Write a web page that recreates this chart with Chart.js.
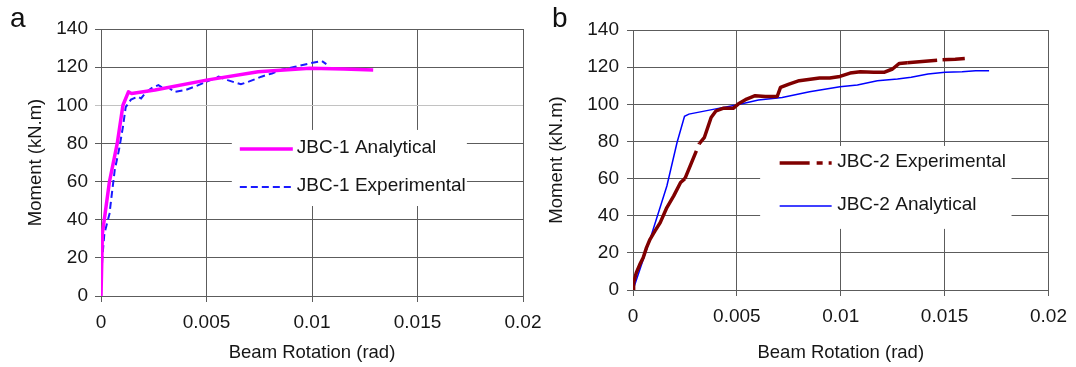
<!DOCTYPE html>
<html>
<head>
<meta charset="utf-8">
<script src="https://cdn.jsdelivr.net/npm/chart.js@4.4.1/dist/chart.umd.min.js"></script>
<style>
    html, body { margin: 0; padding: 0; background: #fff; }
    #wrap { position: relative; width: 1076px; height: 367px; overflow: hidden; font-family: "Liberation Sans", Arial, sans-serif; }
    .panel { position: absolute; top: 0; height: 367px; }
    #panelA { left: 0; width: 560px; }
    #panelB { left: 540px; width: 536px; }
    .tag { position: absolute; font-size: 28px; line-height: 28px; color: #111; }
</style>
</head>
<body>
<div id="wrap">
    <div class="panel" id="panelA"><canvas id="chartA"></canvas></div>
    <div class="panel" id="panelB"><canvas id="chartB"></canvas></div>
    <div class="tag" style="left:10px; top:4px;">a</div>
    <div class="tag" style="left:552px; top:4px;">b</div>
</div>
<script>
// axis ticks
const rotationTicks = [0, 0.005, 0.01, 0.015, 0.02];
const momentTicks = [0, 20, 40, 60, 80, 100, 120, 140];

// (a) JBC-1
const jbc1AnaRot = [0, 0.000065, 0.0004, 0.00077, 0.00104, 0.0013, 0.00145, 0.00256, 0.005, 0.00745, 0.0099, 0.0115, 0.0129];
const jbc1AnaMom = [0, 32.7, 59.9, 80, 100, 107, 106.2, 108, 113.2, 117.6, 119.4, 119, 118.5];

const jbc1ExpRot = [0, 0.00002, 0.000065, 0.00016, 0.0004, 0.00065, 0.00085, 0.00104, 0.00117, 0.00142, 0.00174, 0.0019, 0.00215, 0.0024, 0.00272, 0.00289, 0.0032, 0.00346, 0.004, 0.0045, 0.005, 0.00557, 0.006, 0.00663, 0.007, 0.0076, 0.0081, 0.0086, 0.0092, 0.0099, 0.01047, 0.01068];
const jbc1ExpMom = [0, 10, 20.5, 32.7, 43, 66, 76.5, 88.7, 99, 103, 104.5, 103.6, 107, 109, 110.6, 109.4, 109.4, 107, 108, 110, 112.4, 115, 113.2, 111, 112.4, 115, 116.7, 118.8, 120.2, 122, 123.2, 121.6];

// (b) JBC-2
const jbc2ExpRot = [0, 0.00003, 0.00016, 0.00033, 0.00049, 0.00065, 0.00082, 0.00106, 0.00131, 0.00163, 0.00196, 0.00229, 0.0025, 0.0032, 0.00343, 0.00376, 0.004, 0.00433, 0.00482, 0.00506, 0.00547, 0.00588, 0.00637, 0.00694, 0.0071, 0.00751, 0.008, 0.00898, 0.00947, 0.00996, 0.01045, 0.01094, 0.01159, 0.01208, 0.01249, 0.01282, 0.0132, 0.0149, 0.01551, 0.01597];
const jbc2ExpMom = [0, 4, 9.3, 13.8, 17.4, 22.8, 27.3, 31.8, 36.3, 44.4, 50.7, 57.9, 60, 79, 82, 92.9, 96.5, 97.8, 97.8, 100.1, 102.8, 104.6, 104.2, 104.2, 109.1, 110.9, 112.7, 114.1, 114.1, 115, 116.8, 117.5, 117.2, 117.2, 119, 122, 122.4, 124, 124.3, 124.7];

const jbc2AnaRot = [0, 0.00082, 0.00163, 0.00212, 0.00248, 0.00269, 0.00392, 0.00498, 0.00604, 0.00718, 0.0085, 0.00996, 0.0108, 0.01176, 0.01273, 0.01339, 0.0142, 0.01502, 0.01584, 0.01649, 0.01714];
const jbc2AnaMom = [0, 27.3, 56, 79.4, 93.5, 94.7, 97.4, 99.6, 102.3, 103.7, 106.8, 109.5, 110.4, 112.7, 113.6, 114.5, 116.3, 117.2, 117.5, 118, 118];

const TEXT = '#161616';
const GRID = '#5c5c5c';
const EXP2_DASH = [30, 7, 6, 6, 3, 6];

Chart.defaults.font.family = '"Liberation Sans", Arial, sans-serif';
Chart.defaults.font.size = 19;
Chart.defaults.color = TEXT;

function toPoints(xs, ys) {
    return xs.map((x, i) => ({ x: x, y: ys[i] }));
}

// legend drawn inside the plot area on a white box, like the spreadsheet original
const insideLegend = {
    id: 'insideLegend',
    afterDraw(chart, args, opts) {
        const { ctx, chartArea: a } = chart;
        const x0 = a.left + opts.box[0] * a.width;
        const x1 = a.left + opts.box[1] * a.width;
        const y0 = a.top + opts.box[2] * a.height;
        const y1 = a.top + opts.box[3] * a.height;
        ctx.save();
        ctx.fillStyle = '#fff';
        ctx.fillRect(x0, y0, x1 - x0, y1 - y0);
        chart.data.datasets.forEach((ds, i) => {
            const y = a.top + opts.rows[i] * a.height;
            const sx = x0 + opts.inset;
            ctx.beginPath();
            ctx.strokeStyle = ds.borderColor;
            ctx.lineWidth = ds.borderWidth;
            ctx.lineCap = 'butt';
            ctx.setLineDash(ds.legendDash || ds.borderDash || []);
            ctx.moveTo(sx, y);
            ctx.lineTo(sx + opts.sample, y);
            ctx.stroke();
            ctx.setLineDash([]);
            ctx.fillStyle = TEXT;
            ctx.font = '19px "Liberation Sans", Arial, sans-serif';
            ctx.textBaseline = 'middle';
            ctx.textAlign = 'left';
            ctx.fillText(ds.label, sx + opts.sample + opts.gap, y - 1);
        });
        ctx.restore();
    }
};

function buildScales(s) {
    return {
        x: {
            type: 'linear',
            min: 0,
            max: 0.02,
            afterBuildTicks: scale => { scale.ticks = rotationTicks.map(v => ({ value: v })); },
            afterFit: scale => { scale.height = s.xHeight; },
            grid: { color: GRID, lineWidth: 1, tickLength: 6 },
            border: { color: GRID },
            ticks: { color: TEXT, padding: 9, maxRotation: 0, callback: v => String(v) },
            title: { display: true, text: 'Beam Rotation (rad)', color: TEXT, font: { size: 18.5 }, padding: { top: 0, bottom: 3 } }
        },
        y: {
            type: 'linear',
            min: 0,
            max: 140,
            afterBuildTicks: scale => { scale.ticks = momentTicks.map(v => ({ value: v })); },
            afterFit: scale => { scale.width = s.yWidth; },
            grid: { color: s.yGridColor || GRID, lineWidth: 1, tickLength: 6 },
            border: { color: GRID },
            ticks: { color: TEXT, padding: s.yTickPad },
            title: { display: true, text: 'Moment (kN.m)', color: TEXT, font: { size: 18.5 }, padding: { top: s.yTitlePad, bottom: 0 } }
        }
    };
}

// Panel a
new Chart(document.getElementById('chartA'), {
    type: 'scatter',
    data: {
        datasets: [{
            label: 'JBC-1 Analytical',
            data: toPoints(jbc1AnaRot, jbc1AnaMom),
            showLine: true,
            borderColor: '#ff00ff',
            borderWidth: 3.5,
            borderJoinStyle: 'round',
            pointRadius: 0,
            tension: 0
        }, {
            label: 'JBC-1 Experimental',
            data: toPoints(jbc1ExpRot, jbc1ExpMom),
            showLine: true,
            borderColor: '#1a1aff',
            borderWidth: 2,
            borderDash: [7, 4],
            pointRadius: 0,
            tension: 0
        }]
    },
    options: {
        responsive: true,
        maintainAspectRatio: false,
        animation: false,
        layout: { padding: { left: 0, right: 37, top: 29, bottom: 0 } },
        scales: buildScales({
            xHeight: 71,
            yWidth: 101,
            yTickPad: 7,
            yTitlePad: 25,
            yGridColor: ctx => (ctx.tick && ctx.tick.value === 100) ? '#c2c2c2' : GRID
        }),
        plugins: {
            legend: { display: false },
            tooltip: { enabled: false },
            insideLegend: { box: [0.31, 0.867, 0.378, 0.663], rows: [0.449, 0.592], inset: 8, sample: 53, gap: 4 }
        }
    },
    plugins: [insideLegend]
});

// Panel b
new Chart(document.getElementById('chartB'), {
    type: 'scatter',
    data: {
        datasets: [{
            label: 'JBC-2 Experimental',
            data: toPoints(jbc2ExpRot, jbc2ExpMom),
            showLine: true,
            borderColor: '#800000',
            borderWidth: 3.5,
            borderJoinStyle: 'round',
            legendDash: EXP2_DASH,
            // long jumps between readings show the dash pattern, short ones look solid
            segment: {
                borderDash: ctx => Math.hypot(ctx.p1.x - ctx.p0.x, ctx.p1.y - ctx.p0.y) > 25 ? EXP2_DASH : undefined
            },
            pointRadius: 0,
            tension: 0
        }, {
            label: 'JBC-2 Analytical',
            data: toPoints(jbc2AnaRot, jbc2AnaMom),
            showLine: true,
            borderColor: '#0000ff',
            borderWidth: 1.5,
            pointRadius: 0,
            tension: 0
        }]
    },
    options: {
        responsive: true,
        maintainAspectRatio: false,
        animation: false,
        layout: { padding: { left: 0, right: 23, top: 30, bottom: 0 } },
        scales: buildScales({
            xHeight: 77,
            yWidth: 93,
            yTickPad: 8,
            yTitlePad: 6
        }),
        plugins: {
            legend: { display: false },
            tooltip: { enabled: false },
            insideLegend: { box: [0.306, 0.911, 0.446, 0.765], rows: [0.512, 0.677], inset: 19.5, sample: 52, gap: 5.5 }
        }
    },
    plugins: [insideLegend]
});
</script>
</body>
</html>
